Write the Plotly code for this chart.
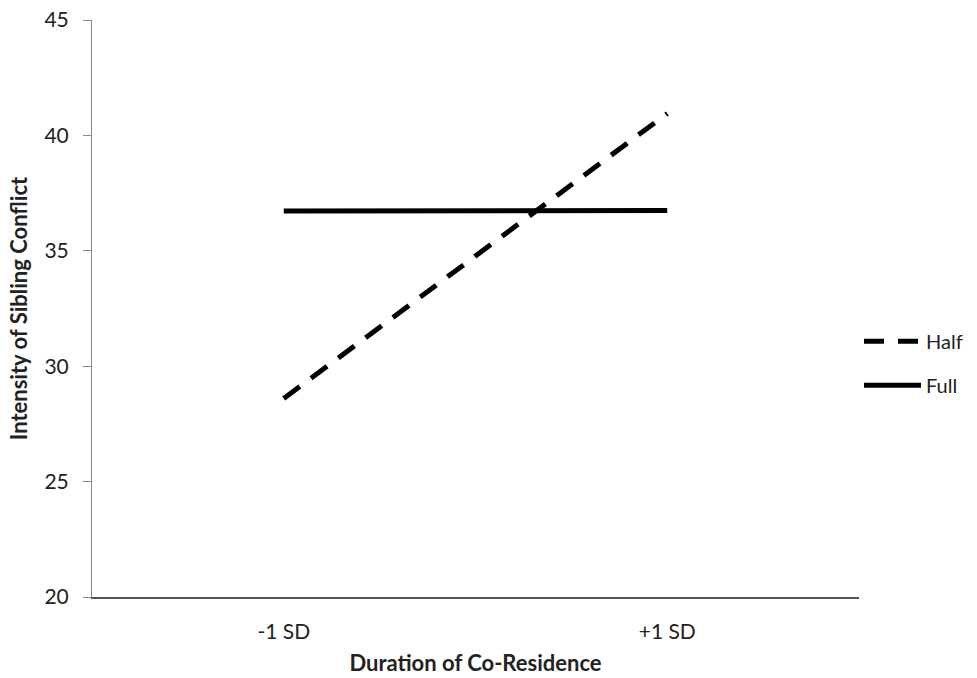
import plotly.graph_objects as go

categories = ["-1 SD", "+1 SD"]
half = [28.6, 40.95]
full = [36.72, 36.75]
y_ticks = [20, 25, 30, 35, 40, 45]

FONT = "Lato, 'Open Sans', sans-serif"

fig = go.Figure()
fig.add_trace(go.Scatter(x=categories, y=half, mode="lines", name="Half",
                         legendgroup="h",
                         line=dict(color="black", width=5, dash="20px,14px")))
fig.add_trace(go.Scatter(x=categories, y=full, mode="lines", name="Full",
                         legendgroup="f",
                         line=dict(color="black", width=5)))

fig.update_layout(
    width=977, height=678,
    margin=dict(l=92, r=118, t=20, b=81, autoexpand=False),
    plot_bgcolor="white", paper_bgcolor="white",
    font=dict(family=FONT, size=20, color="#222"),
    showlegend=True,
    legend=dict(x=1.0, xanchor="left", y=0.405, yanchor="middle",
                font=dict(size=20, color="#222"), tracegroupgap=15,
                itemwidth=57,
                bgcolor="rgba(0,0,0,0)"),
    xaxis=dict(type="category", range=[-0.5, 1.5], showgrid=False,
               showline=True, linecolor="#555", linewidth=1.5,
               ticks="", ticklabelstandoff=15, automargin=False,
               tickfont=dict(size=21),
               title=dict(text="<b>Duration of Co-Residence</b>", font=dict(size=22), standoff=14)),
    yaxis=dict(range=[20, 45], tickvals=y_ticks, showgrid=False,
               showline=True, linecolor="#888", linewidth=1,
               ticks="outside", ticklen=8, tickcolor="#888",
               ticklabelstandoff=10, automargin=False,
               tickfont=dict(size=21),
               title=dict(text="<b>Intensity of Sibling Conflict</b>", font=dict(size=22), standoff=10)),
)

fig.write_html("out.html", config={"displayModeBar": False},
               post_script="document.body.style.margin='0';document.body.style.overflow='hidden';")
